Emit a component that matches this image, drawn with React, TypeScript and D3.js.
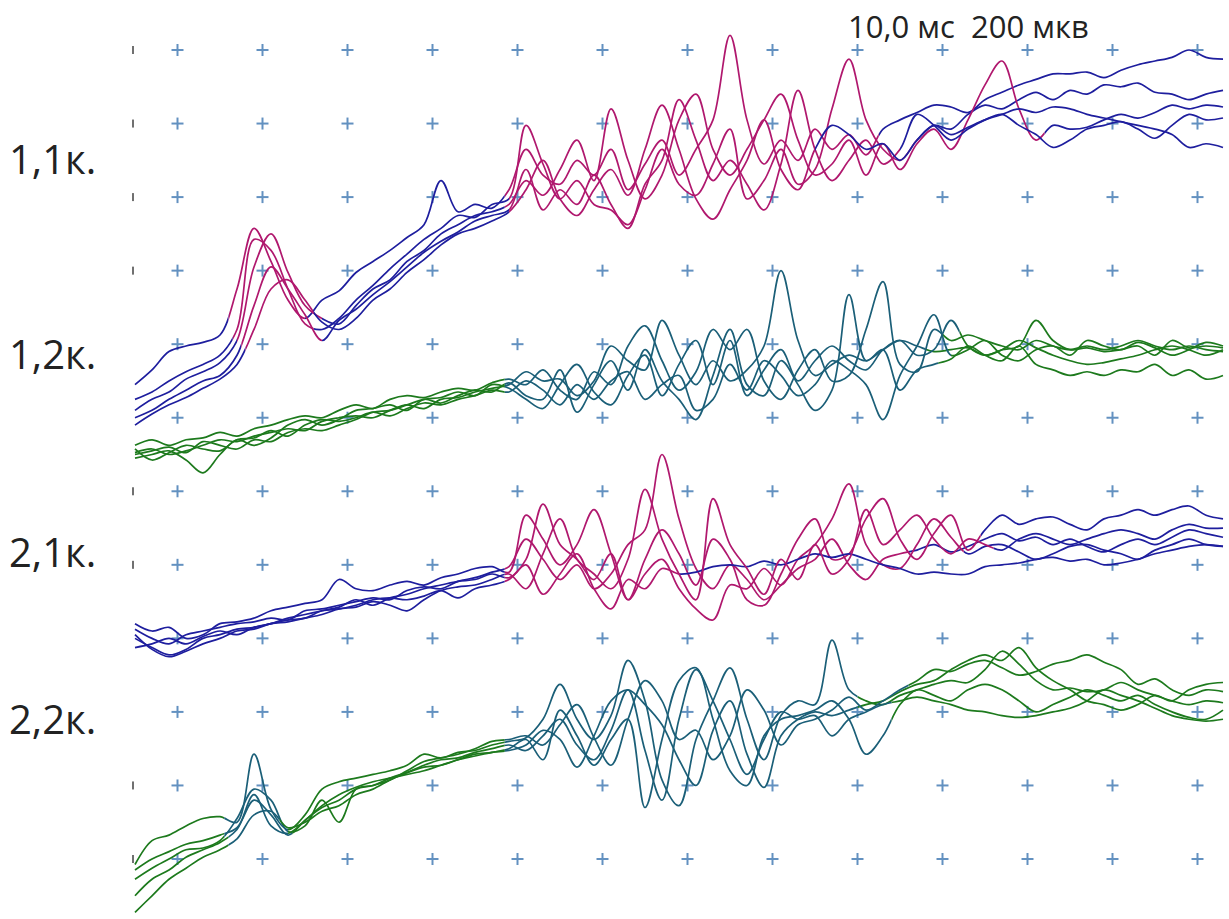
import React from "react";
import * as d3 from "d3";

// Sweep sampling: one value every 2 ms, amplitudes in µV relative to each channel's baseline
const SAMPLE_MS = 2;
const SWEEP_MS = 128;
const DIV_MS = 10;
const DIV_UV = 200;

const channelLabels = ["1,1к.", "1,2к.", "2,1к.", "2,2к."];
const sweepLabel = "10,0 мс  200 мкв";

// Channel 1,1к.
const ch11A = [90,130,180,195,205,225,350,515,425,320,270,320,345,395,425,455,490,525,645,560,580,570,620,730,660,635,700,660,730,620,690,755,660,730,810,1040,810,690,755,700,785,730,770,715,785,810,830,850,845,830,865,885,905,920,935,935,940,925,945,960,970,980,1000,980,975];
const ch11B = [50,70,100,125,145,170,240,485,455,350,255,240,270,320,360,405,445,485,515,550,545,580,595,795,690,595,645,580,565,525,620,730,635,605,690,785,595,645,730,635,675,840,975,810,730,700,755,795,785,825,850,840,865,885,865,890,880,905,900,910,885,880,865,880,890];
const ch11C = [20,50,70,105,125,150,210,410,500,395,305,270,255,305,350,375,425,455,500,525,550,560,580,645,605,675,755,645,840,700,595,660,810,880,730,660,730,810,880,755,660,690,755,660,745,675,745,785,730,810,905,970,840,755,795,785,790,810,825,815,830,850,840,850,845];
const ch11D = [0,20,50,75,100,115,170,305,410,350,280,210,265,295,335,370,410,450,480,505,535,550,565,675,565,620,580,660,580,515,635,700,865,755,645,700,635,565,690,890,730,645,700,755,690,730,825,795,755,785,810,825,795,770,735,755,785,795,805,785,760,795,825,810,815];
const ch11E = [-20,10,35,55,80,105,145,240,350,375,320,260,240,270,320,350,395,430,470,500,515,535,560,620,700,595,550,620,675,605,730,850,730,595,540,620,700,810,675,620,730,795,770,730,745,700,755,795,770,790,810,825,840,830,845,840,825,815,805,795,785,770,735,745,735];
// Marked (active) intervals, ms
const ch11Windows = [
  [[11, 20], [43.5, 87.5]],
  [[11.5, 21], [44, 92]],
  [[12, 22], [43.5, 107]],
  [[12.5, 22], [44, 90]],
  [[13, 21], [44, 80]],
];

// Channel 1,2к.
const ch12F = [105,115,100,110,125,140,135,150,160,170,165,190,200,205,200,220,235,225,250,255,270,280,290,325,300,305,260,300,395,355,330,465,370,290,355,300,330,395,600,410,315,345,370,355,385,410,395,380,385,390,370,385,395,465,410,385,390,380,385,395,370,410,390,395,390];
const ch12G = [90,100,110,85,50,100,140,125,145,180,195,180,195,220,225,235,220,250,240,260,275,270,295,260,250,330,215,290,355,275,385,300,250,195,315,440,290,260,355,290,220,275,535,355,385,275,330,345,360,395,370,355,395,345,330,315,325,315,330,325,345,315,330,305,315];
const ch12H = [125,140,125,140,145,160,150,170,180,195,205,200,220,235,225,250,260,255,270,280,275,295,305,290,330,275,250,325,290,395,450,355,275,325,440,385,440,300,250,330,385,300,315,440,570,345,325,440,410,425,410,395,385,410,395,385,395,385,395,410,395,385,395,385,380];
const ch12I = [115,85,105,125,115,110,140,145,165,150,180,195,190,200,215,205,225,240,235,250,260,275,270,300,275,235,290,250,300,325,250,290,315,220,250,345,275,355,315,260,290,355,330,290,195,315,395,480,370,385,410,370,355,385,395,370,410,395,385,405,390,370,385,405,395];
const ch12J = [100,110,120,105,135,125,115,140,135,160,170,165,180,195,215,220,235,250,255,270,260,290,280,250,225,290,345,270,235,315,370,260,345,410,290,410,260,330,385,300,355,395,355,330,385,410,370,385,465,395,370,385,410,390,370,355,345,350,360,370,385,395,385,370,385];
const ch12Windows = [
  [[43.5, 93]],
  [[43.5, 94.5]],
  [[43.5, 95]],
  [[43.5, 96]],
  [[43.5, 97]],
];

// Channel 2,1к.
const ch21K = [25,0,-15,10,20,30,40,45,55,50,75,80,90,100,110,105,130,140,135,155,165,180,195,270,215,160,200,135,175,255,295,500,325,190,135,200,160,105,145,190,215,270,200,160,215,230,240,255,235,250,270,285,265,275,255,270,250,235,255,270,255,275,295,285,275];
const ch21L = [0,-25,-45,-30,0,10,25,30,40,55,65,75,85,105,90,110,120,135,145,155,160,175,165,215,365,255,215,160,230,105,175,215,135,80,50,145,135,190,145,215,255,325,420,255,200,190,255,325,275,230,250,255,235,215,230,250,255,240,230,215,240,255,270,255,250];
const ch21M = [40,20,30,0,10,40,45,55,75,85,95,105,160,135,130,145,155,145,165,175,190,195,180,335,270,200,255,350,230,105,215,295,230,145,270,215,105,90,175,270,325,215,230,325,380,270,215,285,335,240,295,335,310,325,330,310,295,325,335,350,335,350,360,335,325];
const ch21N = [-25,-15,0,-15,5,20,10,30,40,50,55,75,80,90,105,110,105,115,130,110,135,145,160,200,120,175,230,135,80,160,135,190,175,180,195,200,195,210,200,215,230,220,230,215,200,190,175,180,175,175,195,200,205,215,220,210,215,200,205,215,230,240,250,255,250];
const ch21O = [10,-30,-50,-35,-15,0,20,25,40,45,55,65,80,85,100,90,75,105,130,140,145,160,175,135,230,325,215,175,135,215,405,270,175,105,380,255,190,120,215,160,255,175,215,350,255,295,335,270,230,270,255,240,270,285,270,255,270,285,295,285,270,295,310,300,300];
const ch21Windows = [
  [[43.5, 91]],
  [[43.5, 97.5]],
  [[43.5, 99.5]],
  [[43.5, 64]],
  [[43.5, 101]],
];

// Channel 2,2к.
const ch22P = [-15,50,65,90,110,115,100,285,135,80,120,190,210,220,230,240,255,285,275,290,295,310,320,330,380,475,380,325,390,540,430,215,145,325,430,520,380,270,390,430,420,595,460,430,420,445,460,475,485,480,515,565,530,485,460,465,455,460,480,460,445,430,420,430,425];
const ch22Q = [-55,-25,0,25,30,50,110,190,160,75,90,160,100,190,200,220,235,250,255,270,285,290,300,325,270,405,335,255,325,380,140,325,485,520,380,240,200,335,380,390,405,430,380,285,335,420,460,445,430,460,475,460,430,400,420,440,460,445,430,445,420,400,385,380,405];
const ch22R = [-100,-55,-30,5,25,45,80,175,90,70,105,145,175,195,210,220,230,240,255,270,280,290,295,310,350,325,250,335,430,460,420,365,270,200,350,430,285,195,335,380,400,390,405,420,430,455,475,485,515,540,555,540,575,520,485,460,430,420,405,420,445,430,460,475,480];
const ch22S = [-145,-100,-55,-25,5,25,55,120,130,85,100,130,145,175,190,215,235,255,270,275,290,300,310,295,335,380,310,270,350,460,295,160,380,515,430,325,230,325,400,380,390,335,380,400,420,430,440,430,420,405,400,390,385,390,400,410,430,460,445,430,410,390,380,375,380];
const ch22T = [-30,0,20,40,50,65,85,160,120,65,105,140,160,190,200,215,240,265,275,285,300,320,325,335,310,365,420,330,255,380,485,430,325,350,270,335,460,405,310,365,380,405,440,405,430,460,485,515,510,530,540,520,500,510,530,540,555,535,515,475,490,460,445,460,455];
const ch22Windows = [
  [[10.5, 18], [43.5, 85]],
  [[10.5, 18], [43.5, 89]],
  [[11, 18], [43.5, 85]],
  [[11, 17], [43.5, 89]],
  [[10.5, 18.5], [43.5, 91]],
];

const WIDTH = 1229;
const HEIGHT = 919;

const BLUE = "#1e1e9e";
const MAGENTA = "#b0186e";
const GREEN = "#1d7a1d";
const TEAL = "#1b5f78";
const GRID = "#6391c0";
const INK = "#222222";
const FONT = "'Open Sans', 'DejaVu Sans', sans-serif";

const channels = [
  { label: channelLabels[0], traces: [ch11A, ch11B, ch11C, ch11D, ch11E], windows: ch11Windows, baseRow: 5, base: BLUE, active: MAGENTA, labelY: 174 },
  { label: channelLabels[1], traces: [ch12F, ch12G, ch12H, ch12I, ch12J], windows: ch12Windows, baseRow: 6, base: GREEN, active: TEAL, labelY: 369 },
  { label: channelLabels[2], traces: [ch21K, ch21L, ch21M, ch21N, ch21O], windows: ch21Windows, baseRow: 8, base: BLUE, active: MAGENTA, labelY: 567 },
  { label: channelLabels[3], traces: [ch22P, ch22Q, ch22R, ch22S, ch22T], windows: ch22Windows, baseRow: 11, base: GREEN, active: TEAL, labelY: 734 },
];

const x = d3.scaleLinear().domain([0, SWEEP_MS]).range([135, 1223]);
const row = d3.scaleLinear().domain([0, 11]).range([50, 859]);
const gridCols = d3.range(DIV_MS / 2, SWEEP_MS, DIV_MS);
const gridRows = d3.range(0, 12);
const edgeRows = [0, 1, 2, 3, 6, 7, 10, 11];

function complement(windows: number[][]): number[][] {
  const out: number[][] = [];
  let start = -10;
  windows.forEach(([a, b]) => {
    out.push([start, a]);
    start = b;
  });
  out.push([start, SWEEP_MS + 10]);
  return out;
}

function Trace({ id, values, windows, y, base, active }: any) {
  const line = d3
    .line<number>()
    .x((_, i) => x(i * SAMPLE_MS))
    .y((v) => y(v))
    .curve(d3.curveCatmullRom.alpha(0.5));
  const d = line(values) || "";
  const rects = (ws: number[][]) =>
    ws.map(([a, b], k) => (
      <rect key={k} x={x(a)} y={0} width={Math.max(0, x(b) - x(a))} height={HEIGHT} />
    ));
  return (
    <g>
      <clipPath id={`${id}-base`}>{rects(complement(windows))}</clipPath>
      <clipPath id={`${id}-act`}>{rects(windows)}</clipPath>
      <path d={d} fill="none" stroke={base} strokeWidth={1.7} strokeLinejoin="round" clipPath={`url(#${id}-base)`} />
      <path d={d} fill="none" stroke={active} strokeWidth={1.7} strokeLinejoin="round" clipPath={`url(#${id}-act)`} />
    </g>
  );
}

export default function App() {
  return (
    <svg
      width={WIDTH}
      height={HEIGHT}
      style={{ position: "absolute", left: 0, top: 0, background: "#ffffff" }}
    >
      <rect width={WIDTH} height={HEIGHT} fill="#ffffff" />
      {edgeRows.map((r) => (
        <rect key={`e${r}`} x={132} y={row(r) - 4} width={2} height={8} fill="#333" opacity={0.7} />
      ))}
      <g>
        {gridRows.map((r) =>
          gridCols.map((t) => (
            <g key={`${r}-${t}`} stroke={GRID} strokeWidth={2}>
              <line x1={x(t) - 6} x2={x(t) + 6} y1={row(r)} y2={row(r)} />
              <line x1={x(t)} x2={x(t)} y1={row(r) - 6} y2={row(r) + 6} />
            </g>
          ))
        )}
      </g>
      {channels.map((ch, ci) => {
        const y = d3
          .scaleLinear()
          .domain([0, DIV_UV])
          .range([row(ch.baseRow), row(ch.baseRow - 1)]);
        return (
          <g key={ci}>
            {ch.traces.map((vals, ti) => (
              <Trace
                key={ti}
                id={`tr-${ci}-${ti}`}
                values={vals}
                windows={ch.windows[ti]}
                y={y}
                base={ch.base}
                active={ch.active}
              />
            ))}
            <text x={9} y={ch.labelY} fontFamily={FONT} fontSize={40} fill={INK}>
              {ch.label}
            </text>
          </g>
        );
      })}
      <text x={848} y={38} fontFamily={FONT} fontSize={31} fill={INK} style={{ whiteSpace: "pre" }}>
        {sweepLabel}
      </text>
    </svg>
  );
}
